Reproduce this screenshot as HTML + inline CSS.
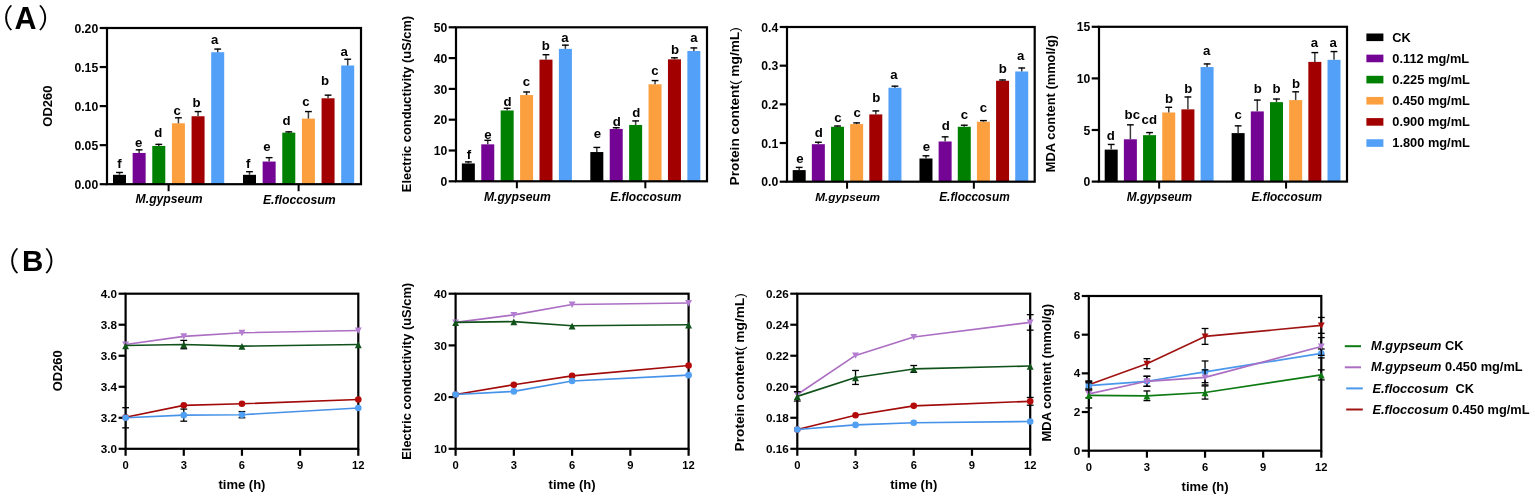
<!DOCTYPE html>
<html><head><meta charset="utf-8"><title>Figure</title>
<style>html,body{margin:0;padding:0;background:#fff;} body{width:1535px;height:499px;overflow:hidden;} svg{display:block;}</style>
</head><body>
<svg width="1535" height="499" viewBox="0 0 1535 499" font-family='"Liberation Sans", Arial, sans-serif'>
<rect width="1535" height="499" fill="#fff"/>
<rect x="113.00" y="174.83" width="13.00" height="9.37" fill="#000000"/>
<line x1="119.50" y1="174.83" x2="119.50" y2="171.98" stroke="#3c3c3c" stroke-width="1.5" stroke-linecap="butt"/>
<line x1="116.10" y1="172.48" x2="122.90" y2="172.48" stroke="#000" stroke-width="1.4" stroke-linecap="butt"/>
<text x="119.50" y="167.90" font-size="13.2" font-weight="bold" text-anchor="middle" id="A1_0_0">f</text>
<rect x="132.64" y="152.96" width="13.00" height="31.24" fill="#740494"/>
<line x1="139.14" y1="152.96" x2="139.14" y2="149.34" stroke="#3c3c3c" stroke-width="1.5" stroke-linecap="butt"/>
<line x1="135.74" y1="149.84" x2="142.54" y2="149.84" stroke="#000" stroke-width="1.4" stroke-linecap="butt"/>
<text x="138.70" y="146.90" font-size="13.2" font-weight="bold" text-anchor="middle" id="A1_0_1">e</text>
<rect x="152.28" y="145.93" width="13.00" height="38.27" fill="#008000"/>
<line x1="158.78" y1="145.93" x2="158.78" y2="143.87" stroke="#3c3c3c" stroke-width="1.5" stroke-linecap="butt"/>
<line x1="155.38" y1="144.37" x2="162.18" y2="144.37" stroke="#000" stroke-width="1.4" stroke-linecap="butt"/>
<text x="158.20" y="137.10" font-size="13.2" font-weight="bold" text-anchor="middle" id="A1_0_2">d</text>
<rect x="171.92" y="123.28" width="13.00" height="60.92" fill="#fca03f"/>
<line x1="178.42" y1="123.28" x2="178.42" y2="117.31" stroke="#3c3c3c" stroke-width="1.5" stroke-linecap="butt"/>
<line x1="175.02" y1="117.81" x2="181.82" y2="117.81" stroke="#000" stroke-width="1.4" stroke-linecap="butt"/>
<text x="177.20" y="115.10" font-size="13.2" font-weight="bold" text-anchor="middle" id="A1_0_3">c</text>
<rect x="191.56" y="116.25" width="13.00" height="67.95" fill="#a20000"/>
<line x1="198.06" y1="116.25" x2="198.06" y2="111.07" stroke="#3c3c3c" stroke-width="1.5" stroke-linecap="butt"/>
<line x1="194.66" y1="111.57" x2="201.46" y2="111.57" stroke="#000" stroke-width="1.4" stroke-linecap="butt"/>
<text x="196.50" y="106.80" font-size="13.2" font-weight="bold" text-anchor="middle" id="A1_0_4">b</text>
<rect x="211.20" y="52.21" width="13.00" height="131.99" fill="#53a0f8"/>
<line x1="217.70" y1="52.21" x2="217.70" y2="48.59" stroke="#3c3c3c" stroke-width="1.5" stroke-linecap="butt"/>
<line x1="214.30" y1="49.09" x2="221.10" y2="49.09" stroke="#000" stroke-width="1.4" stroke-linecap="butt"/>
<text x="214.75" y="44.40" font-size="13.2" font-weight="bold" text-anchor="middle" id="A1_0_5">a</text>
<line x1="168.60" y1="184.20" x2="168.60" y2="191.20" stroke="#000" stroke-width="2.0" stroke-linecap="butt"/>
<text x="169.10" y="203.40" font-size="12.18" font-weight="bold" font-style="italic" text-anchor="middle" id="A1_g0">M.gypseum</text>
<rect x="243.00" y="174.83" width="13.00" height="9.37" fill="#000000"/>
<line x1="249.50" y1="174.83" x2="249.50" y2="171.20" stroke="#3c3c3c" stroke-width="1.5" stroke-linecap="butt"/>
<line x1="246.10" y1="171.70" x2="252.90" y2="171.70" stroke="#000" stroke-width="1.4" stroke-linecap="butt"/>
<text x="248.10" y="168.40" font-size="13.2" font-weight="bold" text-anchor="middle" id="A1_1_0">f</text>
<rect x="262.64" y="161.55" width="13.00" height="22.65" fill="#740494"/>
<line x1="269.14" y1="161.55" x2="269.14" y2="157.15" stroke="#3c3c3c" stroke-width="1.5" stroke-linecap="butt"/>
<line x1="265.74" y1="157.65" x2="272.54" y2="157.65" stroke="#000" stroke-width="1.4" stroke-linecap="butt"/>
<text x="267.00" y="151.00" font-size="13.2" font-weight="bold" text-anchor="middle" id="A1_1_1">e</text>
<rect x="282.28" y="132.65" width="13.00" height="51.55" fill="#008000"/>
<line x1="288.78" y1="132.65" x2="288.78" y2="131.37" stroke="#3c3c3c" stroke-width="1.5" stroke-linecap="butt"/>
<line x1="285.38" y1="131.87" x2="292.18" y2="131.87" stroke="#000" stroke-width="1.4" stroke-linecap="butt"/>
<text x="286.50" y="125.20" font-size="13.2" font-weight="bold" text-anchor="middle" id="A1_1_2">d</text>
<rect x="301.92" y="118.60" width="13.00" height="65.60" fill="#fca03f"/>
<line x1="308.42" y1="118.60" x2="308.42" y2="111.07" stroke="#3c3c3c" stroke-width="1.5" stroke-linecap="butt"/>
<line x1="305.02" y1="111.57" x2="311.82" y2="111.57" stroke="#000" stroke-width="1.4" stroke-linecap="butt"/>
<text x="305.80" y="106.20" font-size="13.2" font-weight="bold" text-anchor="middle" id="A1_1_3">c</text>
<rect x="321.56" y="98.29" width="13.00" height="85.91" fill="#a20000"/>
<line x1="328.06" y1="98.29" x2="328.06" y2="94.67" stroke="#3c3c3c" stroke-width="1.5" stroke-linecap="butt"/>
<line x1="324.66" y1="95.17" x2="331.46" y2="95.17" stroke="#000" stroke-width="1.4" stroke-linecap="butt"/>
<text x="325.10" y="85.10" font-size="13.2" font-weight="bold" text-anchor="middle" id="A1_1_4">b</text>
<rect x="341.20" y="65.49" width="13.00" height="118.71" fill="#53a0f8"/>
<line x1="347.70" y1="65.49" x2="347.70" y2="58.74" stroke="#3c3c3c" stroke-width="1.5" stroke-linecap="butt"/>
<line x1="344.30" y1="59.24" x2="351.10" y2="59.24" stroke="#000" stroke-width="1.4" stroke-linecap="butt"/>
<text x="344.10" y="55.80" font-size="13.2" font-weight="bold" text-anchor="middle" id="A1_1_5">a</text>
<line x1="298.60" y1="184.20" x2="298.60" y2="191.20" stroke="#000" stroke-width="2.0" stroke-linecap="butt"/>
<text x="299.30" y="203.70" font-size="12.24" font-weight="bold" font-style="italic" text-anchor="middle" id="A1_g1">E.floccosum</text>
<rect x="107.00" y="28.00" width="254.00" height="156.20" fill="none" stroke="#000" stroke-width="2.2"/>
<line x1="99.70" y1="184.20" x2="107.00" y2="184.20" stroke="#000" stroke-width="2.2" stroke-linecap="butt"/>
<text x="98.20" y="188.80" font-size="12.2" font-weight="bold" text-anchor="end" >0.00</text>
<line x1="99.70" y1="145.15" x2="107.00" y2="145.15" stroke="#000" stroke-width="2.2" stroke-linecap="butt"/>
<text x="98.20" y="149.75" font-size="12.2" font-weight="bold" text-anchor="end" >0.05</text>
<line x1="99.70" y1="106.10" x2="107.00" y2="106.10" stroke="#000" stroke-width="2.2" stroke-linecap="butt"/>
<text x="98.20" y="110.70" font-size="12.2" font-weight="bold" text-anchor="end" >0.10</text>
<line x1="99.70" y1="67.05" x2="107.00" y2="67.05" stroke="#000" stroke-width="2.2" stroke-linecap="butt"/>
<text x="98.20" y="71.65" font-size="12.2" font-weight="bold" text-anchor="end" >0.15</text>
<line x1="99.70" y1="28.00" x2="107.00" y2="28.00" stroke="#000" stroke-width="2.2" stroke-linecap="butt"/>
<text x="98.20" y="32.60" font-size="12.2" font-weight="bold" text-anchor="end" >0.20</text>
<rect x="461.85" y="163.44" width="13.00" height="17.86" fill="#000000"/>
<line x1="468.35" y1="163.44" x2="468.35" y2="161.40" stroke="#3c3c3c" stroke-width="1.5" stroke-linecap="butt"/>
<line x1="464.95" y1="161.90" x2="471.75" y2="161.90" stroke="#000" stroke-width="1.4" stroke-linecap="butt"/>
<text x="469.00" y="158.90" font-size="13.2" font-weight="bold" text-anchor="middle" id="A2_0_0">f</text>
<rect x="481.26" y="144.34" width="13.00" height="36.96" fill="#740494"/>
<line x1="487.76" y1="144.34" x2="487.76" y2="139.84" stroke="#3c3c3c" stroke-width="1.5" stroke-linecap="butt"/>
<line x1="484.36" y1="140.34" x2="491.16" y2="140.34" stroke="#000" stroke-width="1.4" stroke-linecap="butt"/>
<text x="487.90" y="138.50" font-size="13.2" font-weight="bold" text-anchor="middle" id="A2_0_1">e</text>
<rect x="500.67" y="110.46" width="13.00" height="70.84" fill="#008000"/>
<line x1="507.17" y1="110.46" x2="507.17" y2="107.80" stroke="#3c3c3c" stroke-width="1.5" stroke-linecap="butt"/>
<line x1="503.77" y1="108.30" x2="510.57" y2="108.30" stroke="#000" stroke-width="1.4" stroke-linecap="butt"/>
<text x="507.50" y="105.50" font-size="13.2" font-weight="bold" text-anchor="middle" id="A2_0_2">d</text>
<rect x="520.08" y="95.06" width="13.00" height="86.24" fill="#fca03f"/>
<line x1="526.58" y1="95.06" x2="526.58" y2="91.48" stroke="#3c3c3c" stroke-width="1.5" stroke-linecap="butt"/>
<line x1="523.18" y1="91.98" x2="529.98" y2="91.98" stroke="#000" stroke-width="1.4" stroke-linecap="butt"/>
<text x="526.40" y="86.10" font-size="13.2" font-weight="bold" text-anchor="middle" id="A2_0_3">c</text>
<rect x="539.48" y="59.64" width="13.00" height="121.66" fill="#a20000"/>
<line x1="545.98" y1="59.64" x2="545.98" y2="54.21" stroke="#3c3c3c" stroke-width="1.5" stroke-linecap="butt"/>
<line x1="542.58" y1="54.71" x2="549.38" y2="54.71" stroke="#000" stroke-width="1.4" stroke-linecap="butt"/>
<text x="545.90" y="49.60" font-size="13.2" font-weight="bold" text-anchor="middle" id="A2_0_4">b</text>
<rect x="558.89" y="48.86" width="13.00" height="132.44" fill="#53a0f8"/>
<line x1="565.39" y1="48.86" x2="565.39" y2="44.66" stroke="#3c3c3c" stroke-width="1.5" stroke-linecap="butt"/>
<line x1="561.99" y1="45.16" x2="568.79" y2="45.16" stroke="#000" stroke-width="1.4" stroke-linecap="butt"/>
<text x="564.95" y="41.70" font-size="13.2" font-weight="bold" text-anchor="middle" id="A2_0_5">a</text>
<line x1="516.87" y1="181.30" x2="516.87" y2="188.30" stroke="#000" stroke-width="2.0" stroke-linecap="butt"/>
<text x="517.37" y="200.70" font-size="12.18" font-weight="bold" font-style="italic" text-anchor="middle" id="A2_g0">M.gypseum</text>
<rect x="590.32" y="152.04" width="13.00" height="29.26" fill="#000000"/>
<line x1="596.82" y1="152.04" x2="596.82" y2="146.92" stroke="#3c3c3c" stroke-width="1.5" stroke-linecap="butt"/>
<line x1="593.42" y1="147.42" x2="600.22" y2="147.42" stroke="#000" stroke-width="1.4" stroke-linecap="butt"/>
<text x="597.30" y="138.10" font-size="13.2" font-weight="bold" text-anchor="middle" id="A2_1_0">e</text>
<rect x="609.72" y="128.94" width="13.00" height="52.36" fill="#740494"/>
<line x1="616.22" y1="128.94" x2="616.22" y2="127.21" stroke="#3c3c3c" stroke-width="1.5" stroke-linecap="butt"/>
<line x1="612.82" y1="127.71" x2="619.62" y2="127.71" stroke="#000" stroke-width="1.4" stroke-linecap="butt"/>
<text x="616.80" y="126.20" font-size="13.2" font-weight="bold" text-anchor="middle" id="A2_1_1">d</text>
<rect x="629.13" y="124.94" width="13.00" height="56.36" fill="#008000"/>
<line x1="635.63" y1="124.94" x2="635.63" y2="120.43" stroke="#3c3c3c" stroke-width="1.5" stroke-linecap="butt"/>
<line x1="632.23" y1="120.93" x2="639.03" y2="120.93" stroke="#000" stroke-width="1.4" stroke-linecap="butt"/>
<text x="636.40" y="117.20" font-size="13.2" font-weight="bold" text-anchor="middle" id="A2_1_2">d</text>
<rect x="648.54" y="84.28" width="13.00" height="97.02" fill="#fca03f"/>
<line x1="655.04" y1="84.28" x2="655.04" y2="80.08" stroke="#3c3c3c" stroke-width="1.5" stroke-linecap="butt"/>
<line x1="651.64" y1="80.58" x2="658.44" y2="80.58" stroke="#000" stroke-width="1.4" stroke-linecap="butt"/>
<text x="654.90" y="75.40" font-size="13.2" font-weight="bold" text-anchor="middle" id="A2_1_3">c</text>
<rect x="667.95" y="59.33" width="13.00" height="121.97" fill="#a20000"/>
<line x1="674.45" y1="59.33" x2="674.45" y2="57.29" stroke="#3c3c3c" stroke-width="1.5" stroke-linecap="butt"/>
<line x1="671.05" y1="57.79" x2="677.85" y2="57.79" stroke="#000" stroke-width="1.4" stroke-linecap="butt"/>
<text x="675.10" y="53.80" font-size="13.2" font-weight="bold" text-anchor="middle" id="A2_1_4">b</text>
<rect x="687.36" y="51.02" width="13.00" height="130.28" fill="#53a0f8"/>
<line x1="693.86" y1="51.02" x2="693.86" y2="47.44" stroke="#3c3c3c" stroke-width="1.5" stroke-linecap="butt"/>
<line x1="690.46" y1="47.94" x2="697.26" y2="47.94" stroke="#000" stroke-width="1.4" stroke-linecap="butt"/>
<text x="694.00" y="42.00" font-size="13.2" font-weight="bold" text-anchor="middle" id="A2_1_5">a</text>
<line x1="645.34" y1="181.30" x2="645.34" y2="188.30" stroke="#000" stroke-width="2.0" stroke-linecap="butt"/>
<text x="645.84" y="200.80" font-size="11.97" font-weight="bold" font-style="italic" text-anchor="middle" id="A2_g1">E.floccosum</text>
<rect x="456.00" y="27.30" width="251.00" height="154.00" fill="none" stroke="#000" stroke-width="2.2"/>
<line x1="448.70" y1="181.30" x2="456.00" y2="181.30" stroke="#000" stroke-width="2.2" stroke-linecap="butt"/>
<text x="447.20" y="185.90" font-size="12.2" font-weight="bold" text-anchor="end" >0</text>
<line x1="448.70" y1="150.50" x2="456.00" y2="150.50" stroke="#000" stroke-width="2.2" stroke-linecap="butt"/>
<text x="447.20" y="155.10" font-size="12.2" font-weight="bold" text-anchor="end" >10</text>
<line x1="448.70" y1="119.70" x2="456.00" y2="119.70" stroke="#000" stroke-width="2.2" stroke-linecap="butt"/>
<text x="447.20" y="124.30" font-size="12.2" font-weight="bold" text-anchor="end" >20</text>
<line x1="448.70" y1="88.90" x2="456.00" y2="88.90" stroke="#000" stroke-width="2.2" stroke-linecap="butt"/>
<text x="447.20" y="93.50" font-size="12.2" font-weight="bold" text-anchor="end" >30</text>
<line x1="448.70" y1="58.10" x2="456.00" y2="58.10" stroke="#000" stroke-width="2.2" stroke-linecap="butt"/>
<text x="447.20" y="62.70" font-size="12.2" font-weight="bold" text-anchor="end" >40</text>
<line x1="448.70" y1="27.30" x2="456.00" y2="27.30" stroke="#000" stroke-width="2.2" stroke-linecap="butt"/>
<text x="447.20" y="31.90" font-size="12.2" font-weight="bold" text-anchor="end" >50</text>
<rect x="792.69" y="170.10" width="13.00" height="11.60" fill="#000000"/>
<line x1="799.19" y1="170.10" x2="799.19" y2="166.89" stroke="#3c3c3c" stroke-width="1.5" stroke-linecap="butt"/>
<line x1="795.79" y1="167.39" x2="802.59" y2="167.39" stroke="#000" stroke-width="1.4" stroke-linecap="butt"/>
<text x="799.80" y="162.90" font-size="13.2" font-weight="bold" text-anchor="middle" id="A3_0_0">e</text>
<rect x="811.84" y="144.19" width="13.00" height="37.51" fill="#740494"/>
<line x1="818.34" y1="144.19" x2="818.34" y2="141.75" stroke="#3c3c3c" stroke-width="1.5" stroke-linecap="butt"/>
<line x1="814.94" y1="142.25" x2="821.74" y2="142.25" stroke="#000" stroke-width="1.4" stroke-linecap="butt"/>
<text x="818.80" y="137.40" font-size="13.2" font-weight="bold" text-anchor="middle" id="A3_0_1">d</text>
<rect x="831.00" y="126.78" width="13.00" height="54.92" fill="#008000"/>
<line x1="837.50" y1="126.78" x2="837.50" y2="125.51" stroke="#3c3c3c" stroke-width="1.5" stroke-linecap="butt"/>
<line x1="834.10" y1="126.01" x2="840.90" y2="126.01" stroke="#000" stroke-width="1.4" stroke-linecap="butt"/>
<text x="838.00" y="122.00" font-size="13.2" font-weight="bold" text-anchor="middle" id="A3_0_2">c</text>
<rect x="850.15" y="124.07" width="13.00" height="57.63" fill="#fca03f"/>
<line x1="856.65" y1="124.07" x2="856.65" y2="122.41" stroke="#3c3c3c" stroke-width="1.5" stroke-linecap="butt"/>
<line x1="853.25" y1="122.91" x2="860.05" y2="122.91" stroke="#000" stroke-width="1.4" stroke-linecap="butt"/>
<text x="857.20" y="116.70" font-size="13.2" font-weight="bold" text-anchor="middle" id="A3_0_3">c</text>
<rect x="869.30" y="114.41" width="13.00" height="67.29" fill="#a20000"/>
<line x1="875.80" y1="114.41" x2="875.80" y2="110.42" stroke="#3c3c3c" stroke-width="1.5" stroke-linecap="butt"/>
<line x1="872.40" y1="110.92" x2="879.20" y2="110.92" stroke="#000" stroke-width="1.4" stroke-linecap="butt"/>
<text x="876.40" y="101.50" font-size="13.2" font-weight="bold" text-anchor="middle" id="A3_0_4">b</text>
<rect x="888.45" y="87.72" width="13.00" height="93.98" fill="#53a0f8"/>
<line x1="894.95" y1="87.72" x2="894.95" y2="85.67" stroke="#3c3c3c" stroke-width="1.5" stroke-linecap="butt"/>
<line x1="891.55" y1="86.17" x2="898.35" y2="86.17" stroke="#000" stroke-width="1.4" stroke-linecap="butt"/>
<text x="894.00" y="79.00" font-size="13.2" font-weight="bold" text-anchor="middle" id="A3_0_5">a</text>
<line x1="847.07" y1="181.70" x2="847.07" y2="188.70" stroke="#000" stroke-width="2.0" stroke-linecap="butt"/>
<text x="847.67" y="200.70" font-size="11.79" font-weight="bold" font-style="italic" text-anchor="middle" id="A3_g0">M.gypseum</text>
<rect x="919.47" y="158.50" width="13.00" height="23.20" fill="#000000"/>
<line x1="925.97" y1="158.50" x2="925.97" y2="155.29" stroke="#3c3c3c" stroke-width="1.5" stroke-linecap="butt"/>
<line x1="922.57" y1="155.79" x2="929.37" y2="155.79" stroke="#000" stroke-width="1.4" stroke-linecap="butt"/>
<text x="926.30" y="150.70" font-size="13.2" font-weight="bold" text-anchor="middle" id="A3_1_0">e</text>
<rect x="938.62" y="141.48" width="13.00" height="40.22" fill="#740494"/>
<line x1="945.12" y1="141.48" x2="945.12" y2="136.34" stroke="#3c3c3c" stroke-width="1.5" stroke-linecap="butt"/>
<line x1="941.72" y1="136.84" x2="948.52" y2="136.84" stroke="#000" stroke-width="1.4" stroke-linecap="butt"/>
<text x="945.70" y="129.50" font-size="13.2" font-weight="bold" text-anchor="middle" id="A3_1_1">d</text>
<rect x="957.77" y="126.78" width="13.00" height="54.92" fill="#008000"/>
<line x1="964.27" y1="126.78" x2="964.27" y2="124.73" stroke="#3c3c3c" stroke-width="1.5" stroke-linecap="butt"/>
<line x1="960.87" y1="125.23" x2="967.67" y2="125.23" stroke="#000" stroke-width="1.4" stroke-linecap="butt"/>
<text x="964.40" y="119.20" font-size="13.2" font-weight="bold" text-anchor="middle" id="A3_1_2">c</text>
<rect x="976.92" y="121.75" width="13.00" height="59.95" fill="#fca03f"/>
<line x1="983.42" y1="121.75" x2="983.42" y2="120.09" stroke="#3c3c3c" stroke-width="1.5" stroke-linecap="butt"/>
<line x1="980.02" y1="120.59" x2="986.82" y2="120.59" stroke="#000" stroke-width="1.4" stroke-linecap="butt"/>
<text x="983.50" y="111.80" font-size="13.2" font-weight="bold" text-anchor="middle" id="A3_1_3">c</text>
<rect x="996.08" y="80.76" width="13.00" height="100.94" fill="#a20000"/>
<line x1="1002.58" y1="80.76" x2="1002.58" y2="79.48" stroke="#3c3c3c" stroke-width="1.5" stroke-linecap="butt"/>
<line x1="999.18" y1="79.98" x2="1005.98" y2="79.98" stroke="#000" stroke-width="1.4" stroke-linecap="butt"/>
<text x="1002.90" y="72.50" font-size="13.2" font-weight="bold" text-anchor="middle" id="A3_1_4">b</text>
<rect x="1015.23" y="71.48" width="13.00" height="110.22" fill="#53a0f8"/>
<line x1="1021.73" y1="71.48" x2="1021.73" y2="67.50" stroke="#3c3c3c" stroke-width="1.5" stroke-linecap="butt"/>
<line x1="1018.33" y1="68.00" x2="1025.13" y2="68.00" stroke="#000" stroke-width="1.4" stroke-linecap="butt"/>
<text x="1020.70" y="60.00" font-size="13.2" font-weight="bold" text-anchor="middle" id="A3_1_5">a</text>
<line x1="973.85" y1="181.70" x2="973.85" y2="188.70" stroke="#000" stroke-width="2.0" stroke-linecap="butt"/>
<text x="974.45" y="200.80" font-size="11.87" font-weight="bold" font-style="italic" text-anchor="middle" id="A3_g1">E.floccosum</text>
<rect x="787.00" y="27.00" width="247.70" height="154.70" fill="none" stroke="#000" stroke-width="2.2"/>
<line x1="779.70" y1="181.70" x2="787.00" y2="181.70" stroke="#000" stroke-width="2.2" stroke-linecap="butt"/>
<text x="778.20" y="186.30" font-size="12.2" font-weight="bold" text-anchor="end" >0.0</text>
<line x1="779.70" y1="143.02" x2="787.00" y2="143.02" stroke="#000" stroke-width="2.2" stroke-linecap="butt"/>
<text x="778.20" y="147.62" font-size="12.2" font-weight="bold" text-anchor="end" >0.1</text>
<line x1="779.70" y1="104.35" x2="787.00" y2="104.35" stroke="#000" stroke-width="2.2" stroke-linecap="butt"/>
<text x="778.20" y="108.95" font-size="12.2" font-weight="bold" text-anchor="end" >0.2</text>
<line x1="779.70" y1="65.68" x2="787.00" y2="65.68" stroke="#000" stroke-width="2.2" stroke-linecap="butt"/>
<text x="778.20" y="70.28" font-size="12.2" font-weight="bold" text-anchor="end" >0.3</text>
<line x1="779.70" y1="27.00" x2="787.00" y2="27.00" stroke="#000" stroke-width="2.2" stroke-linecap="butt"/>
<text x="778.20" y="31.60" font-size="12.2" font-weight="bold" text-anchor="end" >0.4</text>
<rect x="1104.70" y="149.61" width="13.00" height="31.99" fill="#000000"/>
<line x1="1111.20" y1="149.61" x2="1111.20" y2="143.95" stroke="#3c3c3c" stroke-width="1.5" stroke-linecap="butt"/>
<line x1="1107.80" y1="144.45" x2="1114.60" y2="144.45" stroke="#000" stroke-width="1.4" stroke-linecap="butt"/>
<text x="1110.80" y="139.60" font-size="13.2" font-weight="bold" text-anchor="middle" id="A4_0_0">d</text>
<rect x="1123.88" y="139.29" width="13.00" height="42.31" fill="#740494"/>
<line x1="1130.38" y1="139.29" x2="1130.38" y2="124.34" stroke="#3c3c3c" stroke-width="1.5" stroke-linecap="butt"/>
<line x1="1126.98" y1="124.84" x2="1133.78" y2="124.84" stroke="#000" stroke-width="1.4" stroke-linecap="butt"/>
<text x="1132.30" y="118.80" font-size="13.2" font-weight="bold" text-anchor="middle" id="A4_0_1">bc</text>
<rect x="1143.06" y="135.16" width="13.00" height="46.44" fill="#008000"/>
<line x1="1149.56" y1="135.16" x2="1149.56" y2="132.08" stroke="#3c3c3c" stroke-width="1.5" stroke-linecap="butt"/>
<line x1="1146.16" y1="132.58" x2="1152.96" y2="132.58" stroke="#000" stroke-width="1.4" stroke-linecap="butt"/>
<text x="1149.30" y="124.00" font-size="13.2" font-weight="bold" text-anchor="middle" id="A4_0_2">cd</text>
<rect x="1162.23" y="112.46" width="13.00" height="69.14" fill="#fca03f"/>
<line x1="1168.73" y1="112.46" x2="1168.73" y2="106.80" stroke="#3c3c3c" stroke-width="1.5" stroke-linecap="butt"/>
<line x1="1165.33" y1="107.30" x2="1172.13" y2="107.30" stroke="#000" stroke-width="1.4" stroke-linecap="butt"/>
<text x="1169.10" y="102.80" font-size="13.2" font-weight="bold" text-anchor="middle" id="A4_0_3">b</text>
<rect x="1181.41" y="109.36" width="13.00" height="72.24" fill="#a20000"/>
<line x1="1187.91" y1="109.36" x2="1187.91" y2="96.48" stroke="#3c3c3c" stroke-width="1.5" stroke-linecap="butt"/>
<line x1="1184.51" y1="96.98" x2="1191.31" y2="96.98" stroke="#000" stroke-width="1.4" stroke-linecap="butt"/>
<text x="1188.20" y="93.40" font-size="13.2" font-weight="bold" text-anchor="middle" id="A4_0_4">b</text>
<rect x="1200.59" y="67.05" width="13.00" height="114.55" fill="#53a0f8"/>
<line x1="1207.09" y1="67.05" x2="1207.09" y2="63.45" stroke="#3c3c3c" stroke-width="1.5" stroke-linecap="butt"/>
<line x1="1203.69" y1="63.95" x2="1210.49" y2="63.95" stroke="#000" stroke-width="1.4" stroke-linecap="butt"/>
<text x="1206.60" y="55.10" font-size="13.2" font-weight="bold" text-anchor="middle" id="A4_0_5">a</text>
<line x1="1159.14" y1="181.60" x2="1159.14" y2="188.60" stroke="#000" stroke-width="2.0" stroke-linecap="butt"/>
<text x="1159.44" y="200.50" font-size="11.89" font-weight="bold" font-style="italic" text-anchor="middle" id="A4_g0">M.gypseum</text>
<rect x="1231.63" y="133.10" width="13.00" height="48.50" fill="#000000"/>
<line x1="1238.13" y1="133.10" x2="1238.13" y2="125.37" stroke="#3c3c3c" stroke-width="1.5" stroke-linecap="butt"/>
<line x1="1234.73" y1="125.87" x2="1241.53" y2="125.87" stroke="#000" stroke-width="1.4" stroke-linecap="butt"/>
<text x="1238.20" y="119.10" font-size="13.2" font-weight="bold" text-anchor="middle" id="A4_1_0">c</text>
<rect x="1250.81" y="111.42" width="13.00" height="70.18" fill="#740494"/>
<line x1="1257.31" y1="111.42" x2="1257.31" y2="99.57" stroke="#3c3c3c" stroke-width="1.5" stroke-linecap="butt"/>
<line x1="1253.91" y1="100.07" x2="1260.71" y2="100.07" stroke="#000" stroke-width="1.4" stroke-linecap="butt"/>
<text x="1257.70" y="93.20" font-size="13.2" font-weight="bold" text-anchor="middle" id="A4_1_1">b</text>
<rect x="1269.99" y="102.14" width="13.00" height="79.46" fill="#008000"/>
<line x1="1276.49" y1="102.14" x2="1276.49" y2="98.54" stroke="#3c3c3c" stroke-width="1.5" stroke-linecap="butt"/>
<line x1="1273.09" y1="99.04" x2="1279.89" y2="99.04" stroke="#000" stroke-width="1.4" stroke-linecap="butt"/>
<text x="1276.50" y="93.20" font-size="13.2" font-weight="bold" text-anchor="middle" id="A4_1_2">b</text>
<rect x="1289.16" y="100.07" width="13.00" height="81.53" fill="#fca03f"/>
<line x1="1295.66" y1="100.07" x2="1295.66" y2="91.32" stroke="#3c3c3c" stroke-width="1.5" stroke-linecap="butt"/>
<line x1="1292.26" y1="91.82" x2="1299.06" y2="91.82" stroke="#000" stroke-width="1.4" stroke-linecap="butt"/>
<text x="1296.00" y="88.10" font-size="13.2" font-weight="bold" text-anchor="middle" id="A4_1_3">b</text>
<rect x="1308.34" y="61.89" width="13.00" height="119.71" fill="#a20000"/>
<line x1="1314.84" y1="61.89" x2="1314.84" y2="52.10" stroke="#3c3c3c" stroke-width="1.5" stroke-linecap="butt"/>
<line x1="1311.44" y1="52.60" x2="1318.24" y2="52.60" stroke="#000" stroke-width="1.4" stroke-linecap="butt"/>
<text x="1314.30" y="47.30" font-size="13.2" font-weight="bold" text-anchor="middle" id="A4_1_4">a</text>
<rect x="1327.51" y="59.82" width="13.00" height="121.78" fill="#53a0f8"/>
<line x1="1334.01" y1="59.82" x2="1334.01" y2="51.07" stroke="#3c3c3c" stroke-width="1.5" stroke-linecap="butt"/>
<line x1="1330.61" y1="51.57" x2="1337.41" y2="51.57" stroke="#000" stroke-width="1.4" stroke-linecap="butt"/>
<text x="1333.10" y="47.30" font-size="13.2" font-weight="bold" text-anchor="middle" id="A4_1_5">a</text>
<line x1="1286.07" y1="181.60" x2="1286.07" y2="188.60" stroke="#000" stroke-width="2.0" stroke-linecap="butt"/>
<text x="1286.77" y="200.70" font-size="11.89" font-weight="bold" font-style="italic" text-anchor="middle" id="A4_g1">E.floccosum</text>
<rect x="1099.00" y="26.80" width="248.00" height="154.80" fill="none" stroke="#000" stroke-width="2.2"/>
<line x1="1091.70" y1="181.60" x2="1099.00" y2="181.60" stroke="#000" stroke-width="2.2" stroke-linecap="butt"/>
<text x="1090.20" y="186.20" font-size="12.2" font-weight="bold" text-anchor="end" >0</text>
<line x1="1091.70" y1="130.00" x2="1099.00" y2="130.00" stroke="#000" stroke-width="2.2" stroke-linecap="butt"/>
<text x="1090.20" y="134.60" font-size="12.2" font-weight="bold" text-anchor="end" >5</text>
<line x1="1091.70" y1="78.40" x2="1099.00" y2="78.40" stroke="#000" stroke-width="2.2" stroke-linecap="butt"/>
<text x="1090.20" y="83.00" font-size="12.2" font-weight="bold" text-anchor="end" >10</text>
<line x1="1091.70" y1="26.80" x2="1099.00" y2="26.80" stroke="#000" stroke-width="2.2" stroke-linecap="butt"/>
<text x="1090.20" y="31.40" font-size="12.2" font-weight="bold" text-anchor="end" >15</text>
<rect x="125.60" y="293.70" width="232.70" height="155.10" fill="none" stroke="#000" stroke-width="2.2"/>
<line x1="118.60" y1="448.80" x2="125.60" y2="448.80" stroke="#000" stroke-width="2.2" stroke-linecap="butt"/>
<text x="117.00" y="452.90" font-size="11.7" font-weight="bold" text-anchor="end" >3.0</text>
<line x1="118.60" y1="417.78" x2="125.60" y2="417.78" stroke="#000" stroke-width="2.2" stroke-linecap="butt"/>
<text x="117.00" y="421.88" font-size="11.7" font-weight="bold" text-anchor="end" >3.2</text>
<line x1="118.60" y1="386.76" x2="125.60" y2="386.76" stroke="#000" stroke-width="2.2" stroke-linecap="butt"/>
<text x="117.00" y="390.86" font-size="11.7" font-weight="bold" text-anchor="end" >3.4</text>
<line x1="118.60" y1="355.74" x2="125.60" y2="355.74" stroke="#000" stroke-width="2.2" stroke-linecap="butt"/>
<text x="117.00" y="359.84" font-size="11.7" font-weight="bold" text-anchor="end" >3.6</text>
<line x1="118.60" y1="324.72" x2="125.60" y2="324.72" stroke="#000" stroke-width="2.2" stroke-linecap="butt"/>
<text x="117.00" y="328.82" font-size="11.7" font-weight="bold" text-anchor="end" >3.8</text>
<line x1="118.60" y1="293.70" x2="125.60" y2="293.70" stroke="#000" stroke-width="2.2" stroke-linecap="butt"/>
<text x="117.00" y="297.80" font-size="11.7" font-weight="bold" text-anchor="end" >4.0</text>
<line x1="125.60" y1="448.80" x2="125.60" y2="455.80" stroke="#000" stroke-width="2.2" stroke-linecap="butt"/>
<text x="125.60" y="468.80" font-size="11.2" font-weight="bold" text-anchor="middle" >0</text>
<line x1="183.78" y1="448.80" x2="183.78" y2="455.80" stroke="#000" stroke-width="2.2" stroke-linecap="butt"/>
<text x="183.78" y="468.80" font-size="11.2" font-weight="bold" text-anchor="middle" >3</text>
<line x1="241.95" y1="448.80" x2="241.95" y2="455.80" stroke="#000" stroke-width="2.2" stroke-linecap="butt"/>
<text x="241.95" y="468.80" font-size="11.2" font-weight="bold" text-anchor="middle" >6</text>
<line x1="300.12" y1="448.80" x2="300.12" y2="455.80" stroke="#000" stroke-width="2.2" stroke-linecap="butt"/>
<text x="300.12" y="468.80" font-size="11.2" font-weight="bold" text-anchor="middle" >9</text>
<line x1="358.30" y1="448.80" x2="358.30" y2="455.80" stroke="#000" stroke-width="2.2" stroke-linecap="butt"/>
<text x="358.30" y="468.80" font-size="11.2" font-weight="bold" text-anchor="middle" >12</text>
<text x="241.95" y="489.10" font-size="13" font-weight="bold" text-anchor="middle" >time (h)</text>
<polyline points="125.60,417.31 183.78,405.37 241.95,403.82 358.30,399.48" fill="none" stroke="#a20a0a" stroke-width="1.6" stroke-linejoin="round"/>
<circle cx="125.60" cy="417.31" r="3.30" fill="#b40a0a"/>
<circle cx="183.78" cy="405.37" r="3.30" fill="#b40a0a"/>
<circle cx="241.95" cy="403.82" r="3.30" fill="#b40a0a"/>
<circle cx="358.30" cy="399.48" r="3.30" fill="#b40a0a"/>
<line x1="125.60" y1="407.70" x2="125.60" y2="427.86" stroke="#000" stroke-width="1.3" stroke-linecap="butt"/>
<line x1="122.20" y1="407.70" x2="129.00" y2="407.70" stroke="#000" stroke-width="1.3" stroke-linecap="butt"/>
<line x1="122.20" y1="427.86" x2="129.00" y2="427.86" stroke="#000" stroke-width="1.3" stroke-linecap="butt"/>
<line x1="183.78" y1="409.09" x2="183.78" y2="421.19" stroke="#000" stroke-width="1.3" stroke-linecap="butt"/>
<line x1="180.38" y1="409.09" x2="187.18" y2="409.09" stroke="#000" stroke-width="1.3" stroke-linecap="butt"/>
<line x1="180.38" y1="421.19" x2="187.18" y2="421.19" stroke="#000" stroke-width="1.3" stroke-linecap="butt"/>
<line x1="241.95" y1="411.58" x2="241.95" y2="417.78" stroke="#000" stroke-width="1.3" stroke-linecap="butt"/>
<line x1="238.55" y1="411.58" x2="245.35" y2="411.58" stroke="#000" stroke-width="1.3" stroke-linecap="butt"/>
<line x1="238.55" y1="417.78" x2="245.35" y2="417.78" stroke="#000" stroke-width="1.3" stroke-linecap="butt"/>
<polyline points="125.60,417.78 183.78,415.14 241.95,414.68 358.30,408.01" fill="none" stroke="#4592e8" stroke-width="1.6" stroke-linejoin="round"/>
<circle cx="125.60" cy="417.78" r="3.30" fill="#52a0f3"/>
<circle cx="183.78" cy="415.14" r="3.30" fill="#52a0f3"/>
<circle cx="241.95" cy="414.68" r="3.30" fill="#52a0f3"/>
<circle cx="358.30" cy="408.01" r="3.30" fill="#52a0f3"/>
<polyline points="125.60,344.57 183.78,336.35 241.95,332.79 358.30,330.46" fill="none" stroke="#ab6ec3" stroke-width="1.6" stroke-linejoin="round"/>
<polygon points="125.60,347.97 129.05,341.57 122.15,341.57" fill="#b37dd2"/>
<polygon points="183.78,339.75 187.22,333.35 180.33,333.35" fill="#b37dd2"/>
<polygon points="241.95,336.19 245.40,329.79 238.50,329.79" fill="#b37dd2"/>
<polygon points="358.30,333.86 361.75,327.46 354.85,327.46" fill="#b37dd2"/>
<line x1="183.78" y1="340.39" x2="183.78" y2="348.76" stroke="#000" stroke-width="1.3" stroke-linecap="butt"/>
<line x1="180.38" y1="340.39" x2="187.18" y2="340.39" stroke="#000" stroke-width="1.3" stroke-linecap="butt"/>
<line x1="180.38" y1="348.76" x2="187.18" y2="348.76" stroke="#000" stroke-width="1.3" stroke-linecap="butt"/>
<polyline points="125.60,345.50 183.78,344.57 241.95,346.12 358.30,344.57" fill="none" stroke="#11521b" stroke-width="1.6" stroke-linejoin="round"/>
<polygon points="125.60,342.50 129.05,349.20 122.15,349.20" fill="#11521b"/>
<polygon points="183.78,341.57 187.22,348.27 180.33,348.27" fill="#11521b"/>
<polygon points="241.95,343.12 245.40,349.82 238.50,349.82" fill="#11521b"/>
<polygon points="358.30,341.57 361.75,348.27 354.85,348.27" fill="#11521b"/>
<rect x="455.60" y="293.70" width="233.00" height="155.10" fill="none" stroke="#000" stroke-width="2.2"/>
<line x1="448.60" y1="448.80" x2="455.60" y2="448.80" stroke="#000" stroke-width="2.2" stroke-linecap="butt"/>
<text x="447.00" y="452.90" font-size="11.7" font-weight="bold" text-anchor="end" >10</text>
<line x1="448.60" y1="397.10" x2="455.60" y2="397.10" stroke="#000" stroke-width="2.2" stroke-linecap="butt"/>
<text x="447.00" y="401.20" font-size="11.7" font-weight="bold" text-anchor="end" >20</text>
<line x1="448.60" y1="345.40" x2="455.60" y2="345.40" stroke="#000" stroke-width="2.2" stroke-linecap="butt"/>
<text x="447.00" y="349.50" font-size="11.7" font-weight="bold" text-anchor="end" >30</text>
<line x1="448.60" y1="293.70" x2="455.60" y2="293.70" stroke="#000" stroke-width="2.2" stroke-linecap="butt"/>
<text x="447.00" y="297.80" font-size="11.7" font-weight="bold" text-anchor="end" >40</text>
<line x1="455.60" y1="448.80" x2="455.60" y2="455.80" stroke="#000" stroke-width="2.2" stroke-linecap="butt"/>
<text x="455.60" y="468.80" font-size="11.2" font-weight="bold" text-anchor="middle" >0</text>
<line x1="513.85" y1="448.80" x2="513.85" y2="455.80" stroke="#000" stroke-width="2.2" stroke-linecap="butt"/>
<text x="513.85" y="468.80" font-size="11.2" font-weight="bold" text-anchor="middle" >3</text>
<line x1="572.10" y1="448.80" x2="572.10" y2="455.80" stroke="#000" stroke-width="2.2" stroke-linecap="butt"/>
<text x="572.10" y="468.80" font-size="11.2" font-weight="bold" text-anchor="middle" >6</text>
<line x1="630.35" y1="448.80" x2="630.35" y2="455.80" stroke="#000" stroke-width="2.2" stroke-linecap="butt"/>
<text x="630.35" y="468.80" font-size="11.2" font-weight="bold" text-anchor="middle" >9</text>
<line x1="688.60" y1="448.80" x2="688.60" y2="455.80" stroke="#000" stroke-width="2.2" stroke-linecap="butt"/>
<text x="688.60" y="468.80" font-size="11.2" font-weight="bold" text-anchor="middle" >12</text>
<text x="572.10" y="489.10" font-size="13" font-weight="bold" text-anchor="middle" >time (h)</text>
<polyline points="455.60,394.51 513.85,384.69 572.10,375.90 688.60,365.56" fill="none" stroke="#a20a0a" stroke-width="1.6" stroke-linejoin="round"/>
<circle cx="455.60" cy="394.51" r="3.30" fill="#b40a0a"/>
<circle cx="513.85" cy="384.69" r="3.30" fill="#b40a0a"/>
<circle cx="572.10" cy="375.90" r="3.30" fill="#b40a0a"/>
<circle cx="688.60" cy="365.56" r="3.30" fill="#b40a0a"/>
<polyline points="455.60,394.51 513.85,391.41 572.10,381.07 688.60,375.13" fill="none" stroke="#4592e8" stroke-width="1.6" stroke-linejoin="round"/>
<circle cx="455.60" cy="394.51" r="3.30" fill="#52a0f3"/>
<circle cx="513.85" cy="391.41" r="3.30" fill="#52a0f3"/>
<circle cx="572.10" cy="381.07" r="3.30" fill="#52a0f3"/>
<circle cx="688.60" cy="375.13" r="3.30" fill="#52a0f3"/>
<polyline points="455.60,322.39 513.85,314.90 572.10,304.56 688.60,303.01" fill="none" stroke="#ab6ec3" stroke-width="1.6" stroke-linejoin="round"/>
<polygon points="455.60,325.79 459.05,319.39 452.15,319.39" fill="#b37dd2"/>
<polygon points="513.85,318.30 517.30,311.90 510.40,311.90" fill="#b37dd2"/>
<polygon points="572.10,307.96 575.55,301.56 568.65,301.56" fill="#b37dd2"/>
<polygon points="688.60,306.41 692.05,300.01 685.15,300.01" fill="#b37dd2"/>
<polyline points="455.60,322.39 513.85,321.62 572.10,325.75 688.60,324.72" fill="none" stroke="#11521b" stroke-width="1.6" stroke-linejoin="round"/>
<polygon points="455.60,319.39 459.05,326.09 452.15,326.09" fill="#11521b"/>
<polygon points="513.85,318.62 517.30,325.32 510.40,325.32" fill="#11521b"/>
<polygon points="572.10,322.75 575.55,329.45 568.65,329.45" fill="#11521b"/>
<polygon points="688.60,321.72 692.05,328.42 685.15,328.42" fill="#11521b"/>
<rect x="797.30" y="293.70" width="232.90" height="155.10" fill="none" stroke="#000" stroke-width="2.2"/>
<line x1="790.30" y1="448.80" x2="797.30" y2="448.80" stroke="#000" stroke-width="2.2" stroke-linecap="butt"/>
<text x="788.70" y="452.90" font-size="11.7" font-weight="bold" text-anchor="end" >0.16</text>
<line x1="790.30" y1="417.78" x2="797.30" y2="417.78" stroke="#000" stroke-width="2.2" stroke-linecap="butt"/>
<text x="788.70" y="421.88" font-size="11.7" font-weight="bold" text-anchor="end" >0.18</text>
<line x1="790.30" y1="386.76" x2="797.30" y2="386.76" stroke="#000" stroke-width="2.2" stroke-linecap="butt"/>
<text x="788.70" y="390.86" font-size="11.7" font-weight="bold" text-anchor="end" >0.20</text>
<line x1="790.30" y1="355.74" x2="797.30" y2="355.74" stroke="#000" stroke-width="2.2" stroke-linecap="butt"/>
<text x="788.70" y="359.84" font-size="11.7" font-weight="bold" text-anchor="end" >0.22</text>
<line x1="790.30" y1="324.72" x2="797.30" y2="324.72" stroke="#000" stroke-width="2.2" stroke-linecap="butt"/>
<text x="788.70" y="328.82" font-size="11.7" font-weight="bold" text-anchor="end" >0.24</text>
<line x1="790.30" y1="293.70" x2="797.30" y2="293.70" stroke="#000" stroke-width="2.2" stroke-linecap="butt"/>
<text x="788.70" y="297.80" font-size="11.7" font-weight="bold" text-anchor="end" >0.26</text>
<line x1="797.30" y1="448.80" x2="797.30" y2="455.80" stroke="#000" stroke-width="2.2" stroke-linecap="butt"/>
<text x="797.30" y="468.80" font-size="11.2" font-weight="bold" text-anchor="middle" >0</text>
<line x1="855.52" y1="448.80" x2="855.52" y2="455.80" stroke="#000" stroke-width="2.2" stroke-linecap="butt"/>
<text x="855.52" y="468.80" font-size="11.2" font-weight="bold" text-anchor="middle" >3</text>
<line x1="913.75" y1="448.80" x2="913.75" y2="455.80" stroke="#000" stroke-width="2.2" stroke-linecap="butt"/>
<text x="913.75" y="468.80" font-size="11.2" font-weight="bold" text-anchor="middle" >6</text>
<line x1="971.98" y1="448.80" x2="971.98" y2="455.80" stroke="#000" stroke-width="2.2" stroke-linecap="butt"/>
<text x="971.98" y="468.80" font-size="11.2" font-weight="bold" text-anchor="middle" >9</text>
<line x1="1030.20" y1="448.80" x2="1030.20" y2="455.80" stroke="#000" stroke-width="2.2" stroke-linecap="butt"/>
<text x="1030.20" y="468.80" font-size="11.2" font-weight="bold" text-anchor="middle" >12</text>
<text x="913.75" y="489.10" font-size="13" font-weight="bold" text-anchor="middle" >time (h)</text>
<line x1="1030.20" y1="397.46" x2="1030.20" y2="405.22" stroke="#000" stroke-width="1.3" stroke-linecap="butt"/>
<line x1="1026.80" y1="397.46" x2="1033.60" y2="397.46" stroke="#000" stroke-width="1.3" stroke-linecap="butt"/>
<line x1="1026.80" y1="405.22" x2="1033.60" y2="405.22" stroke="#000" stroke-width="1.3" stroke-linecap="butt"/>
<polyline points="797.30,429.57 855.52,415.30 913.75,405.84 1030.20,401.34" fill="none" stroke="#a20a0a" stroke-width="1.6" stroke-linejoin="round"/>
<circle cx="797.30" cy="429.57" r="3.30" fill="#b40a0a"/>
<circle cx="855.52" cy="415.30" r="3.30" fill="#b40a0a"/>
<circle cx="913.75" cy="405.84" r="3.30" fill="#b40a0a"/>
<circle cx="1030.20" cy="401.34" r="3.30" fill="#b40a0a"/>
<polyline points="797.30,429.57 855.52,424.91 913.75,422.74 1030.20,421.50" fill="none" stroke="#4592e8" stroke-width="1.6" stroke-linejoin="round"/>
<circle cx="797.30" cy="429.57" r="3.30" fill="#52a0f3"/>
<circle cx="855.52" cy="424.91" r="3.30" fill="#52a0f3"/>
<circle cx="913.75" cy="422.74" r="3.30" fill="#52a0f3"/>
<circle cx="1030.20" cy="421.50" r="3.30" fill="#52a0f3"/>
<line x1="1030.20" y1="314.64" x2="1030.20" y2="330.15" stroke="#000" stroke-width="1.3" stroke-linecap="butt"/>
<line x1="1026.80" y1="314.64" x2="1033.60" y2="314.64" stroke="#000" stroke-width="1.3" stroke-linecap="butt"/>
<line x1="1026.80" y1="330.15" x2="1033.60" y2="330.15" stroke="#000" stroke-width="1.3" stroke-linecap="butt"/>
<polyline points="797.30,394.51 855.52,355.43 913.75,336.97 1030.20,322.39" fill="none" stroke="#ab6ec3" stroke-width="1.6" stroke-linejoin="round"/>
<polygon points="797.30,397.91 800.75,391.51 793.85,391.51" fill="#b37dd2"/>
<polygon points="855.52,358.83 858.98,352.43 852.07,352.43" fill="#b37dd2"/>
<polygon points="913.75,340.37 917.20,333.97 910.30,333.97" fill="#b37dd2"/>
<polygon points="1030.20,325.79 1033.65,319.39 1026.75,319.39" fill="#b37dd2"/>
<line x1="797.30" y1="391.72" x2="797.30" y2="401.03" stroke="#000" stroke-width="1.3" stroke-linecap="butt"/>
<line x1="793.90" y1="391.72" x2="800.70" y2="391.72" stroke="#000" stroke-width="1.3" stroke-linecap="butt"/>
<line x1="793.90" y1="401.03" x2="800.70" y2="401.03" stroke="#000" stroke-width="1.3" stroke-linecap="butt"/>
<line x1="855.52" y1="370.47" x2="855.52" y2="384.43" stroke="#000" stroke-width="1.3" stroke-linecap="butt"/>
<line x1="852.12" y1="370.47" x2="858.92" y2="370.47" stroke="#000" stroke-width="1.3" stroke-linecap="butt"/>
<line x1="852.12" y1="384.43" x2="858.92" y2="384.43" stroke="#000" stroke-width="1.3" stroke-linecap="butt"/>
<line x1="913.75" y1="365.51" x2="913.75" y2="372.34" stroke="#000" stroke-width="1.3" stroke-linecap="butt"/>
<line x1="910.35" y1="365.51" x2="917.15" y2="365.51" stroke="#000" stroke-width="1.3" stroke-linecap="butt"/>
<line x1="910.35" y1="372.34" x2="917.15" y2="372.34" stroke="#000" stroke-width="1.3" stroke-linecap="butt"/>
<polyline points="797.30,396.38 855.52,377.45 913.75,368.92 1030.20,365.98" fill="none" stroke="#11521b" stroke-width="1.6" stroke-linejoin="round"/>
<polygon points="797.30,393.38 800.75,400.08 793.85,400.08" fill="#11521b"/>
<polygon points="855.52,374.45 858.98,381.15 852.07,381.15" fill="#11521b"/>
<polygon points="913.75,365.92 917.20,372.62 910.30,372.62" fill="#11521b"/>
<polygon points="1030.20,362.98 1033.65,369.68 1026.75,369.68" fill="#11521b"/>
<rect x="1088.80" y="296.00" width="232.50" height="154.70" fill="none" stroke="#000" stroke-width="2.2"/>
<line x1="1081.80" y1="450.70" x2="1088.80" y2="450.70" stroke="#000" stroke-width="2.2" stroke-linecap="butt"/>
<text x="1080.20" y="454.80" font-size="11.7" font-weight="bold" text-anchor="end" >0</text>
<line x1="1081.80" y1="412.02" x2="1088.80" y2="412.02" stroke="#000" stroke-width="2.2" stroke-linecap="butt"/>
<text x="1080.20" y="416.12" font-size="11.7" font-weight="bold" text-anchor="end" >2</text>
<line x1="1081.80" y1="373.35" x2="1088.80" y2="373.35" stroke="#000" stroke-width="2.2" stroke-linecap="butt"/>
<text x="1080.20" y="377.45" font-size="11.7" font-weight="bold" text-anchor="end" >4</text>
<line x1="1081.80" y1="334.68" x2="1088.80" y2="334.68" stroke="#000" stroke-width="2.2" stroke-linecap="butt"/>
<text x="1080.20" y="338.78" font-size="11.7" font-weight="bold" text-anchor="end" >6</text>
<line x1="1081.80" y1="296.00" x2="1088.80" y2="296.00" stroke="#000" stroke-width="2.2" stroke-linecap="butt"/>
<text x="1080.20" y="300.10" font-size="11.7" font-weight="bold" text-anchor="end" >8</text>
<line x1="1088.80" y1="450.70" x2="1088.80" y2="457.70" stroke="#000" stroke-width="2.2" stroke-linecap="butt"/>
<text x="1088.80" y="470.70" font-size="11.2" font-weight="bold" text-anchor="middle" >0</text>
<line x1="1146.92" y1="450.70" x2="1146.92" y2="457.70" stroke="#000" stroke-width="2.2" stroke-linecap="butt"/>
<text x="1146.92" y="470.70" font-size="11.2" font-weight="bold" text-anchor="middle" >3</text>
<line x1="1205.05" y1="450.70" x2="1205.05" y2="457.70" stroke="#000" stroke-width="2.2" stroke-linecap="butt"/>
<text x="1205.05" y="470.70" font-size="11.2" font-weight="bold" text-anchor="middle" >6</text>
<line x1="1263.17" y1="450.70" x2="1263.17" y2="457.70" stroke="#000" stroke-width="2.2" stroke-linecap="butt"/>
<text x="1263.17" y="470.70" font-size="11.2" font-weight="bold" text-anchor="middle" >9</text>
<line x1="1321.30" y1="450.70" x2="1321.30" y2="457.70" stroke="#000" stroke-width="2.2" stroke-linecap="butt"/>
<text x="1321.30" y="470.70" font-size="11.2" font-weight="bold" text-anchor="middle" >12</text>
<text x="1205.05" y="491.00" font-size="13" font-weight="bold" text-anchor="middle" >time (h)</text>
<line x1="1088.80" y1="381.28" x2="1088.80" y2="388.24" stroke="#000" stroke-width="1.3" stroke-linecap="butt"/>
<line x1="1085.40" y1="381.28" x2="1092.20" y2="381.28" stroke="#000" stroke-width="1.3" stroke-linecap="butt"/>
<line x1="1085.40" y1="388.24" x2="1092.20" y2="388.24" stroke="#000" stroke-width="1.3" stroke-linecap="butt"/>
<line x1="1146.92" y1="358.65" x2="1146.92" y2="368.71" stroke="#000" stroke-width="1.3" stroke-linecap="butt"/>
<line x1="1143.52" y1="358.65" x2="1150.33" y2="358.65" stroke="#000" stroke-width="1.3" stroke-linecap="butt"/>
<line x1="1143.52" y1="368.71" x2="1150.33" y2="368.71" stroke="#000" stroke-width="1.3" stroke-linecap="butt"/>
<line x1="1205.05" y1="328.49" x2="1205.05" y2="344.34" stroke="#000" stroke-width="1.3" stroke-linecap="butt"/>
<line x1="1201.65" y1="328.49" x2="1208.45" y2="328.49" stroke="#000" stroke-width="1.3" stroke-linecap="butt"/>
<line x1="1201.65" y1="344.34" x2="1208.45" y2="344.34" stroke="#000" stroke-width="1.3" stroke-linecap="butt"/>
<line x1="1321.30" y1="317.46" x2="1321.30" y2="333.32" stroke="#000" stroke-width="1.3" stroke-linecap="butt"/>
<line x1="1317.90" y1="317.46" x2="1324.70" y2="317.46" stroke="#000" stroke-width="1.3" stroke-linecap="butt"/>
<line x1="1317.90" y1="333.32" x2="1324.70" y2="333.32" stroke="#000" stroke-width="1.3" stroke-linecap="butt"/>
<polyline points="1088.80,384.76 1146.92,363.68 1205.05,336.42 1321.30,325.39" fill="none" stroke="#a01414" stroke-width="1.7" stroke-linejoin="round"/>
<polygon points="1088.80,388.16 1092.25,381.76 1085.35,381.76" fill="#a80c0c"/>
<polygon points="1146.92,367.08 1150.38,360.68 1143.47,360.68" fill="#a80c0c"/>
<polygon points="1205.05,339.82 1208.50,333.42 1201.60,333.42" fill="#a80c0c"/>
<polygon points="1321.30,328.79 1324.75,322.39 1317.85,322.39" fill="#a80c0c"/>
<line x1="1088.80" y1="381.08" x2="1088.80" y2="389.98" stroke="#000" stroke-width="1.3" stroke-linecap="butt"/>
<line x1="1085.40" y1="381.08" x2="1092.20" y2="381.08" stroke="#000" stroke-width="1.3" stroke-linecap="butt"/>
<line x1="1085.40" y1="389.98" x2="1092.20" y2="389.98" stroke="#000" stroke-width="1.3" stroke-linecap="butt"/>
<line x1="1146.92" y1="376.25" x2="1146.92" y2="386.31" stroke="#000" stroke-width="1.3" stroke-linecap="butt"/>
<line x1="1143.52" y1="376.25" x2="1150.33" y2="376.25" stroke="#000" stroke-width="1.3" stroke-linecap="butt"/>
<line x1="1143.52" y1="386.31" x2="1150.33" y2="386.31" stroke="#000" stroke-width="1.3" stroke-linecap="butt"/>
<line x1="1205.05" y1="360.97" x2="1205.05" y2="382.63" stroke="#000" stroke-width="1.3" stroke-linecap="butt"/>
<line x1="1201.65" y1="360.97" x2="1208.45" y2="360.97" stroke="#000" stroke-width="1.3" stroke-linecap="butt"/>
<line x1="1201.65" y1="382.63" x2="1208.45" y2="382.63" stroke="#000" stroke-width="1.3" stroke-linecap="butt"/>
<line x1="1321.30" y1="348.98" x2="1321.30" y2="357.88" stroke="#000" stroke-width="1.3" stroke-linecap="butt"/>
<line x1="1317.90" y1="348.98" x2="1324.70" y2="348.98" stroke="#000" stroke-width="1.3" stroke-linecap="butt"/>
<line x1="1317.90" y1="357.88" x2="1324.70" y2="357.88" stroke="#000" stroke-width="1.3" stroke-linecap="butt"/>
<polyline points="1088.80,385.53 1146.92,381.28 1205.05,371.80 1321.30,353.43" fill="none" stroke="#4a98ec" stroke-width="1.7" stroke-linejoin="round"/>
<circle cx="1088.80" cy="385.53" r="3.30" fill="#52a0f3"/>
<circle cx="1146.92" cy="381.28" r="3.30" fill="#52a0f3"/>
<circle cx="1205.05" cy="371.80" r="3.30" fill="#52a0f3"/>
<circle cx="1321.30" cy="353.43" r="3.30" fill="#52a0f3"/>
<line x1="1088.80" y1="389.98" x2="1088.80" y2="397.72" stroke="#000" stroke-width="1.3" stroke-linecap="butt"/>
<line x1="1085.40" y1="389.98" x2="1092.20" y2="389.98" stroke="#000" stroke-width="1.3" stroke-linecap="butt"/>
<line x1="1085.40" y1="397.72" x2="1092.20" y2="397.72" stroke="#000" stroke-width="1.3" stroke-linecap="butt"/>
<line x1="1146.92" y1="376.25" x2="1146.92" y2="386.31" stroke="#000" stroke-width="1.3" stroke-linecap="butt"/>
<line x1="1143.52" y1="376.25" x2="1150.33" y2="376.25" stroke="#000" stroke-width="1.3" stroke-linecap="butt"/>
<line x1="1143.52" y1="386.31" x2="1150.33" y2="386.31" stroke="#000" stroke-width="1.3" stroke-linecap="butt"/>
<line x1="1205.05" y1="369.87" x2="1205.05" y2="384.95" stroke="#000" stroke-width="1.3" stroke-linecap="butt"/>
<line x1="1201.65" y1="369.87" x2="1208.45" y2="369.87" stroke="#000" stroke-width="1.3" stroke-linecap="butt"/>
<line x1="1201.65" y1="384.95" x2="1208.45" y2="384.95" stroke="#000" stroke-width="1.3" stroke-linecap="butt"/>
<line x1="1321.30" y1="337.58" x2="1321.30" y2="355.37" stroke="#000" stroke-width="1.3" stroke-linecap="butt"/>
<line x1="1317.90" y1="337.58" x2="1324.70" y2="337.58" stroke="#000" stroke-width="1.3" stroke-linecap="butt"/>
<line x1="1317.90" y1="355.37" x2="1324.70" y2="355.37" stroke="#000" stroke-width="1.3" stroke-linecap="butt"/>
<polyline points="1088.80,393.85 1146.92,381.28 1205.05,377.41 1321.30,346.47" fill="none" stroke="#ab6ec3" stroke-width="1.7" stroke-linejoin="round"/>
<polygon points="1088.80,397.25 1092.25,390.85 1085.35,390.85" fill="#b37dd2"/>
<polygon points="1146.92,384.68 1150.38,378.28 1143.47,378.28" fill="#b37dd2"/>
<polygon points="1205.05,380.81 1208.50,374.41 1201.60,374.41" fill="#b37dd2"/>
<polygon points="1321.30,349.87 1324.75,343.47 1317.85,343.47" fill="#b37dd2"/>
<line x1="1088.80" y1="382.83" x2="1088.80" y2="407.96" stroke="#000" stroke-width="1.3" stroke-linecap="butt"/>
<line x1="1085.40" y1="382.83" x2="1092.20" y2="382.83" stroke="#000" stroke-width="1.3" stroke-linecap="butt"/>
<line x1="1085.40" y1="407.96" x2="1092.20" y2="407.96" stroke="#000" stroke-width="1.3" stroke-linecap="butt"/>
<line x1="1146.92" y1="390.95" x2="1146.92" y2="400.62" stroke="#000" stroke-width="1.3" stroke-linecap="butt"/>
<line x1="1143.52" y1="390.95" x2="1150.33" y2="390.95" stroke="#000" stroke-width="1.3" stroke-linecap="butt"/>
<line x1="1143.52" y1="400.62" x2="1150.33" y2="400.62" stroke="#000" stroke-width="1.3" stroke-linecap="butt"/>
<line x1="1205.05" y1="385.92" x2="1205.05" y2="399.07" stroke="#000" stroke-width="1.3" stroke-linecap="butt"/>
<line x1="1201.65" y1="385.92" x2="1208.45" y2="385.92" stroke="#000" stroke-width="1.3" stroke-linecap="butt"/>
<line x1="1201.65" y1="399.07" x2="1208.45" y2="399.07" stroke="#000" stroke-width="1.3" stroke-linecap="butt"/>
<line x1="1321.30" y1="369.87" x2="1321.30" y2="379.92" stroke="#000" stroke-width="1.3" stroke-linecap="butt"/>
<line x1="1317.90" y1="369.87" x2="1324.70" y2="369.87" stroke="#000" stroke-width="1.3" stroke-linecap="butt"/>
<line x1="1317.90" y1="379.92" x2="1324.70" y2="379.92" stroke="#000" stroke-width="1.3" stroke-linecap="butt"/>
<polyline points="1088.80,395.39 1146.92,395.78 1205.05,392.49 1321.30,374.90" fill="none" stroke="#0e7a14" stroke-width="1.7" stroke-linejoin="round"/>
<polygon points="1088.80,392.39 1092.25,399.09 1085.35,399.09" fill="#0e7a14"/>
<polygon points="1146.92,392.78 1150.38,399.48 1143.47,399.48" fill="#0e7a14"/>
<polygon points="1205.05,389.49 1208.50,396.19 1201.60,396.19" fill="#0e7a14"/>
<polygon points="1321.30,371.90 1324.75,378.60 1317.85,378.60" fill="#0e7a14"/>
<text transform="translate(51.80,106.10) rotate(-90)" font-size="13.0" font-weight="bold" text-anchor="middle">OD260</text>
<text transform="translate(410.80,104.00) rotate(-90)" font-size="12.85" font-weight="bold" text-anchor="middle">Electric conductivity (uS/cm)</text>
<text transform="translate(739.40,185.40) rotate(-90)" font-size="13.7" font-weight="bold">Protein content<tspan font-weight="normal">(</tspan> mg/mL<tspan font-weight="normal">)</tspan></text>
<text transform="translate(1054.80,103.70) rotate(-90)" font-size="12.9" font-weight="bold" text-anchor="middle">MDA content (mmol/g)</text>
<text transform="translate(62.20,370.75) rotate(-90)" font-size="12.9" font-weight="bold" text-anchor="middle">OD260</text>
<text transform="translate(411.00,371.30) rotate(-90)" font-size="12.9" font-weight="bold" text-anchor="middle">Electric conductivity (uS/cm)</text>
<text transform="translate(743.60,451.40) rotate(-90)" font-size="13.7" font-weight="bold">Protein content<tspan font-weight="normal">(</tspan> mg/mL<tspan font-weight="normal">)</tspan></text>
<text transform="translate(1050.80,372.70) rotate(-90)" font-size="12.95" font-weight="bold" text-anchor="middle">MDA content (mmol/g)</text>
<text x="-13.56" y="28.28" font-size="26.8" font-weight="normal" font-family='"Liberation Sans", "Noto Sans CJK SC", sans-serif'>（</text>
<text x="14.4" y="28.9" font-size="30.5" font-weight="bold">A</text>
<text x="37.96" y="28.28" font-size="26.8" font-weight="normal" font-family='"Liberation Sans", "Noto Sans CJK SC", sans-serif'>）</text>
<text x="-7.63" y="270.67" font-size="26.9" font-weight="normal" font-family='"Liberation Sans", "Noto Sans CJK SC", sans-serif'>（</text>
<text x="22" y="270.8" font-size="29.5" font-weight="bold">B</text>
<text x="44.35" y="270.67" font-size="26.9" font-weight="normal" font-family='"Liberation Sans", "Noto Sans CJK SC", sans-serif'>）</text>
<rect x="1366.4" y="33.50" width="17" height="7.6" fill="#000000"/>
<text x="1392.30" y="41.70" font-size="12.8" font-weight="bold" text-anchor="start" >CK</text>
<rect x="1366.4" y="54.65" width="17" height="7.6" fill="#740494"/>
<text x="1392.30" y="62.85" font-size="12.8" font-weight="bold" text-anchor="start" >0.112 mg/mL</text>
<rect x="1366.4" y="75.80" width="17" height="7.6" fill="#008000"/>
<text x="1392.30" y="84.00" font-size="12.8" font-weight="bold" text-anchor="start" >0.225 mg/mL</text>
<rect x="1366.4" y="96.95" width="17" height="7.6" fill="#fca03f"/>
<text x="1392.30" y="105.15" font-size="12.8" font-weight="bold" text-anchor="start" >0.450 mg/mL</text>
<rect x="1366.4" y="118.10" width="17" height="7.6" fill="#a20000"/>
<text x="1392.30" y="126.30" font-size="12.8" font-weight="bold" text-anchor="start" >0.900 mg/mL</text>
<rect x="1366.4" y="139.25" width="17" height="7.6" fill="#53a0f8"/>
<text x="1392.30" y="147.45" font-size="12.8" font-weight="bold" text-anchor="start" >1.800 mg/mL</text>
<line x1="1344.80" y1="346.20" x2="1361.00" y2="346.20" stroke="#0e7a14" stroke-width="2.0" stroke-linecap="butt"/>
<text x="1371.1" y="350.30" font-size="12.8" font-weight="bold" xml:space="preserve"><tspan font-style="italic">M.gypseum</tspan> CK</text>
<line x1="1344.80" y1="367.30" x2="1361.00" y2="367.30" stroke="#ab6ec3" stroke-width="2.0" stroke-linecap="butt"/>
<text x="1371.1" y="371.40" font-size="12.8" font-weight="bold" xml:space="preserve"><tspan font-style="italic">M.gypseum</tspan> 0.450 mg/mL</text>
<line x1="1346.20" y1="388.40" x2="1362.80" y2="388.40" stroke="#4a98ec" stroke-width="2.0" stroke-linecap="butt"/>
<text x="1372.4" y="392.50" font-size="12.8" font-weight="bold" xml:space="preserve"><tspan font-style="italic">E.floccosum</tspan>  CK</text>
<line x1="1346.20" y1="409.50" x2="1362.80" y2="409.50" stroke="#a01414" stroke-width="2.0" stroke-linecap="butt"/>
<text x="1372.4" y="413.60" font-size="12.8" font-weight="bold" xml:space="preserve"><tspan font-style="italic">E.floccosum</tspan> 0.450 mg/mL</text>
</svg>
</body></html>
